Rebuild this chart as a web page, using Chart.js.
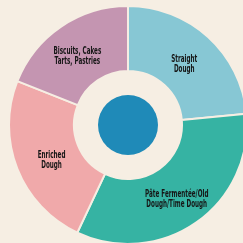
<!DOCTYPE html>
<html>
<head>
<meta charset="utf-8">
<script src="https://cdn.jsdelivr.net/npm/chart.js@4/dist/chart.umd.min.js"></script>
<style>
  html, body { margin: 0; padding: 0; background: #f6eee3; overflow: hidden; }
  body { width: 243px; height: 243px; position: relative; }
  #wrap { position: absolute; left: 8px; top: 5px; width: 240px; height: 240px; }
</style>
</head>
<body>
<div id="wrap"><canvas id="doughChart"></canvas></div>
<script>
// Dough types (clockwise from 12 o'clock)
const labels = [
    ['Straight', 'Dough'],
    ['Pâte Fermentée/Old', 'Dough/Time Dough'],
    ['Enriched', 'Dough'],
    ['Biscuits, Cakes', 'Tarts, Pastries']
];
const shares = [23.5, 33.5, 24, 19];
const colors = ['#87c7d4', '#36b3a3', '#f0a9aa', '#c495b1'];

const bg = '#f6eee3';
// small per-label nudges (px) to sit like the print
const nudgeX = [-2, -1, 4, -2];

// slice labels + the blue dot in the middle
const decorations = {
    id: 'decorations',
    afterDatasetsDraw(chart) {
        const ctx = chart.ctx;
        const meta = chart.getDatasetMeta(0);
        const first = meta.data[0];

        ctx.save();
        ctx.fillStyle = '#1f8ab8';
        ctx.beginPath();
        ctx.arc(first.x, first.y, 30, 0, Math.PI * 2);
        ctx.fill();

        ctx.fillStyle = '#161616';
        ctx.font = 'bold 11px "DejaVu Sans Condensed", "DejaVu Sans"';
        ctx.textAlign = 'center';
        ctx.textBaseline = 'middle';
        meta.data.forEach((arc, i) => {
            const p = arc.getProps(['x', 'y', 'startAngle', 'endAngle', 'innerRadius', 'outerRadius']);
            const mid = (p.startAngle + p.endAngle) / 2;
            const r = (p.innerRadius + p.outerRadius) / 2;
            const cx = p.x + Math.cos(mid) * r + nudgeX[i];
            const cy = p.y + Math.sin(mid) * r + 3;
            const lines = labels[i];
            lines.forEach((line, j) => {
                const y = cy + (j - (lines.length - 1) / 2) * 10;
                ctx.save();
                ctx.translate(cx, y);
                ctx.scale(0.57, 1);
                ctx.fillText(line, 0, 0);
                ctx.restore();
            });
        });
        ctx.restore();
    }
};

new Chart(document.getElementById('doughChart'), {
    type: 'doughnut',
    data: {
        labels: labels.map(l => l.join(' ')),
        datasets: [{
            data: shares,
            backgroundColor: colors,
            borderColor: bg,
            borderWidth: 2
        }]
    },
    options: {
        responsive: true,
        maintainAspectRatio: false,
        animation: false,
        cutout: 54,
        layout: { padding: 0 },
        plugins: {
            legend: { display: false },
            tooltip: { enabled: false }
        }
    },
    plugins: [decorations]
});
</script>
</body>
</html>
